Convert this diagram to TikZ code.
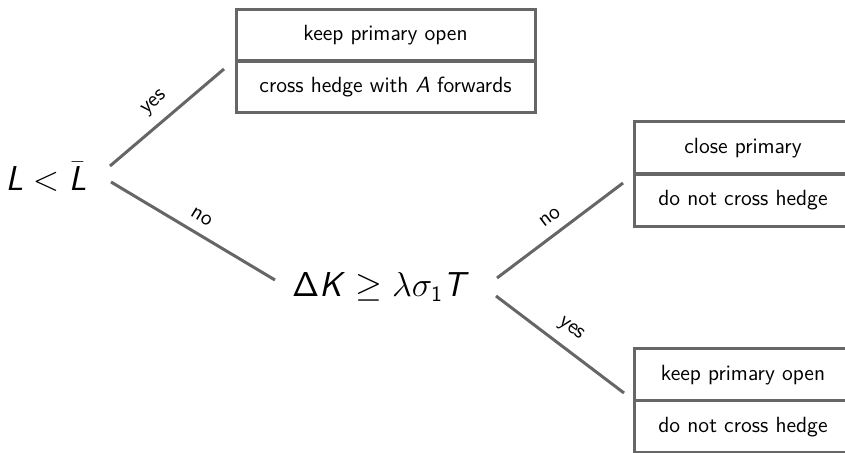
\documentclass[tikz,border=0pt]{standalone}
\DeclareMathAlphabet{\mathsfit}{OT1}{cmss}{m}{sl}
\DeclareMathAlphabet{\mathsfup}{OT1}{cmss}{m}{n}
\definecolor{edgegray}{RGB}{102,102,102}
\begin{document}
\begin{tikzpicture}[x=0.5pt,y=-0.5pt,
  cell/.style={draw=edgegray,line width=1.5pt,minimum width=149.5pt,minimum height=26pt,inner sep=0pt,font=\sffamily\fontsize{11}{13}\selectfont},
  rcell/.style={cell,minimum width=109pt},
  cond/.style={inner sep=0pt,font=\fontsize{16}{19}\selectfont},
  link/.style={draw=edgegray,line width=1.5pt},
  lab/.style={midway,sloped,above=5pt,inner sep=0pt,font=\sffamily\fontsize{11}{13}\selectfont}]
\useasboundingbox (0,0) rectangle (845,453);
\node[cond] (c1) at (46,177) {$\mathsfit{L}<\bar{\mathsfit{L}}$};
\node[cond] (c2) at (381,287) {$\mathsfup{\Delta}\mathsfit{K}\geq\lambda\sigma_{\mathsfup{1}}\mathsfit{T}$};
\node[cell] (b1t) at (385.5,35.5) {keep primary open};
\node[cell] (b1b) at (385.5,87) {cross hedge with \textit{A} forwards};
\node[rcell] (b2t) at (743,148) {close primary};
\node[rcell] (b2b) at (743,200.5) {do not cross hedge};
\node[rcell] (b3t) at (743,375) {keep primary open};
\node[rcell] (b3b) at (743,427) {do not cross hedge};
\coordinate (a1) at (110,166);
\coordinate (e1) at (224,69);
\coordinate (a2) at (111,182);
\coordinate (e2) at (275,280);
\coordinate (a3) at (497,278);
\coordinate (e3) at (623,183);
\coordinate (a4) at (496,296);
\coordinate (e4) at (624,393);
\draw[link] (a1) -- node[lab] {yes} (e1);
\draw[link] (a2) -- node[lab] {no} (e2);
\draw[link] (a3) -- node[lab] {no} (e3);
\draw[link] (a4) -- node[lab] {yes} (e4);
\end{tikzpicture}
\end{document}
